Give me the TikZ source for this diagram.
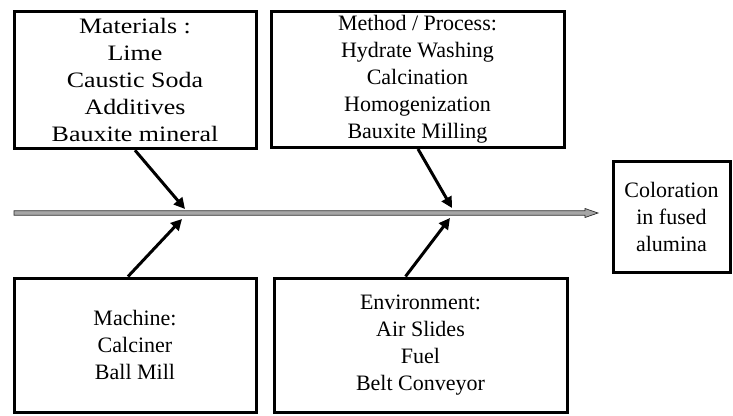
\documentclass[tikz,border=0pt]{standalone}
\usepackage{fontspec}
\setmainfont{Liberation Serif}
\newfontfamily\widefont{Liberation Serif}[FakeStretch=1.18]
\usetikzlibrary{arrows.meta,calc}
\tikzset{
  box/.style={draw=black, line width=3pt, inner sep=0pt, align=center,
              font=\fontsize{22}{27}\selectfont},
  cause/.style={draw=black, line width=3pt,
                -{Triangle[length=11pt,width=11pt]}},
  spine/.style={fill=gray!70, draw=gray!35!black, line width=0.7pt}
}
\begin{document}
\begin{tikzpicture}[x=1pt,y=-1pt]
\useasboundingbox (0,0) rectangle (733,415);
% boxes
\node[box, minimum width=242pt, minimum height=137.5pt, font=\widefont\fontsize{22}{27}\selectfont] (mat) at (135,80)
  {Materials :\\Lime\\Caustic Soda\\Additives\\Bauxite mineral};
\node[box, minimum width=293pt, minimum height=136pt] (meth) at (417.5,79.5)
  {Method / Process:\\Hydrate Washing\\Calcination\\Homogenization\\Bauxite Milling};
\node[box, minimum width=242pt, minimum height=134pt] (mach) at (135,345)
  {Machine:\\Calciner\\Ball Mill};
\node[box, minimum width=293pt, minimum height=134pt] (env) at (420.5,345)
  {Environment:\\Air Slides\\Fuel\\Belt Conveyor};
\node[box, minimum width=117pt, minimum height=111pt] (eff) at (671.5,216.5)
  {Coloration\\in fused\\alumina};
% spine
\coordinate (spL) at (14,213);
\coordinate (spR) at (598,213);
\path[spine] ($(spL)+(0,-2.2)$) -- ($(spR)+(-13,-2.2)$) -- ($(spR)+(-13,-4.5)$)
  -- (spR) -- ($(spR)+(-13,4.5)$) -- ($(spR)+(-13,2.2)$) -- ($(spL)+(0,2.2)$) -- cycle;
% junctions on the spine
\coordinate (j1) at (185,209);
\coordinate (j2) at (452,208);
\coordinate (j3) at (182,219);
\coordinate (j4) at (450,218);
% cause arrows
\draw[cause] (mat.south) -- (j1);
\draw[cause] ($(meth.south)+(0.5,0)$) -- (j2);
\draw[cause] ($(mach.north)+(-7,0)$) -- (j3);
\draw[cause] ($(env.north)+(-15,0)$) -- (j4);
\end{tikzpicture}
\end{document}
